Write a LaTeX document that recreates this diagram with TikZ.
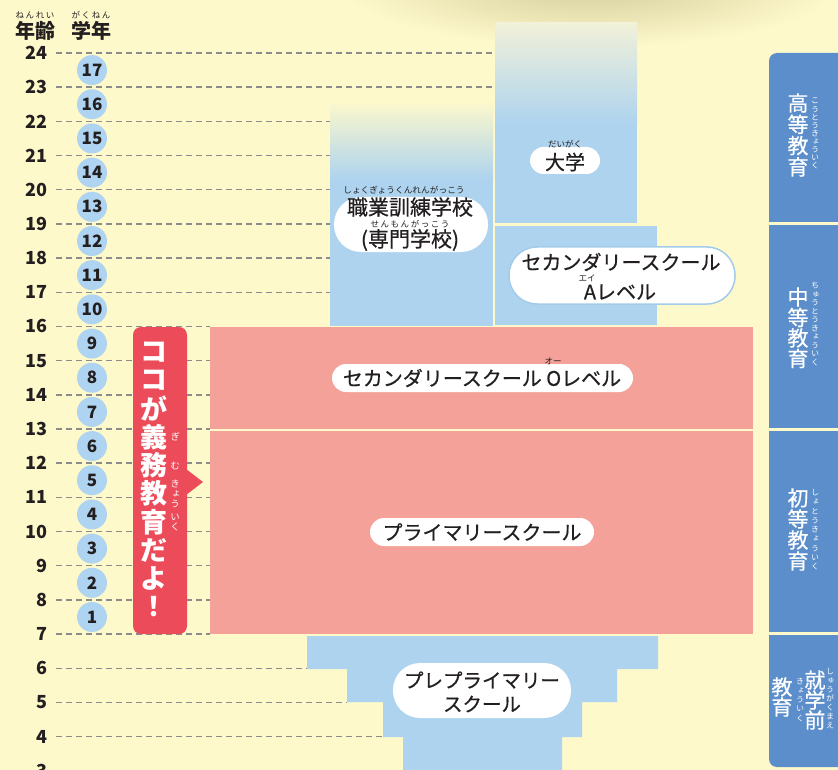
\documentclass[tikz,border=0pt]{standalone}
\usepackage{fontspec}
\setmainfont{Noto Sans CJK JP}
\newfontfamily\jpv[RawFeature=+vert]{Noto Sans CJK JP}
\newfontfamily\jpm[FakeBold=0.6]{Noto Sans CJK JP}
\newfontfamily\jpsp[LetterSpace=18]{Noto Sans CJK JP}
\definecolor{bgy}{HTML}{FEF9CB}
\definecolor{shadowc}{HTML}{D4CC9C}
\definecolor{lblue}{HTML}{ADD3EF}
\definecolor{lborder}{HTML}{A3CBEB}
\definecolor{topfade}{HTML}{F2F1D9}
\definecolor{pinkr}{HTML}{F4A19A}
\definecolor{sideblue}{HTML}{5B8ECA}
\definecolor{banner}{HTML}{EC4B5A}
\definecolor{txt}{HTML}{231F20}
\definecolor{dashc}{HTML}{8C8C8C}
\definecolor{circ}{HTML}{AED4F1}
\tikzset{
  fs/.style={font=\jpm\fontsize{#1}{#1}\selectfont},
  lbl/.style={inner sep=0pt, text=txt},
  pillbox/.style={fill=white, inner sep=0pt, draw=none},
  ruby/.style={inner sep=0pt, text=txt, font=\fontsize{8.5}{8.5}\selectfont},
  sruby/.style={inner sep=0pt, text=txt, font=\jpsp\fontsize{8.5}{8.5}\selectfont},
  agelbl/.style={inner sep=0pt, anchor=east, text=txt, font=\fontsize{18}{18}\selectfont\bfseries},
  gradecirc/.style={circle, fill=circ, minimum size=30pt, inner sep=0pt, text=txt, font=\fontsize{17}{17}\selectfont\bfseries},
  dashl/.style={draw=dashc, line width=1.4pt, dash pattern=on 6pt off 4pt},
  vchar/.style={inner sep=0pt, text=white, font=\jpm\fontsize{21}{21}\selectfont},
  vruby/.style={inner sep=0pt, text=white, font=\jpv\fontsize{8}{8}\selectfont},
  bchar/.style={inner sep=0pt, text=white, font=\fontsize{27}{27}\selectfont\bfseries},
  bruby/.style={inner sep=0pt, text=white, font=\jpv\fontsize{9.5}{9.5}\selectfont},
}
\begin{document}
\begin{tikzpicture}[x=1pt,y=-1pt]
\useasboundingbox (0,0) rectangle (838,770);
\clip (0,0) rectangle (838,770);
\fill[bgy] (0,0) rectangle (838,770);
% top shadow
\shade[inner color=shadowc, outer color=bgy] (590,-15) ellipse [x radius=250, y radius=62];
% header
\node[lbl, font=\fontsize{20}{20}\selectfont\bfseries] (hage) at (35,31) {年齢};
\node[lbl, font=\fontsize{20}{20}\selectfont\bfseries] (hgrade) at (91,31) {学年};
\node[sruby] (rage) at (35,15) {ねんれい};
\node[sruby] (rgrade) at (91,15) {がくねん};
% dashed lines and ages
\foreach \a/\xe in {24/495,23/495,22/330,21/330,20/330,19/330,18/330,17/330,16/210,15/210,14/210,13/210,12/210,11/210,10/210,9/210,8/210,7/210,6/307,5/347,4/383} {
  \pgfmathsetmacro\yy{53+(24-\a)*34.18}
  \coordinate (ls\a) at (56,\yy);
  \coordinate (le\a) at (\xe,\yy);
  \draw[dashl] (ls\a) -- (le\a);
  \node[agelbl] (age\a) at (48,\yy) {\a};
}
\node[agelbl] (age3) at (48,770.8) {3};
% columns
\shade[top color=topfade, bottom color=lblue] (495,23) rectangle (637,125);
\fill[lblue] (495,124) rectangle (637,223);
\shade[top color=bgy, bottom color=lblue] (330,100) rectangle (493,180);
\fill[lblue] (330,179) rectangle (493,326);
\fill[lblue] (495,226) rectangle (657,325);
% red areas
\fill[pinkr] (210,327) rectangle (753,429);
\fill[pinkr] (210,431) rectangle (753,634);
% preprimary
\fill[lblue] (307,636) -- (658,636) -- (658,669) -- (617,669) -- (617,702) -- (582,702) -- (582,737) -- (562,737) -- (562,775) -- (403,775) -- (403,737) -- (383,737) -- (383,702) -- (347,702) -- (347,669) -- (307,669) -- cycle;
% label boxes
\node[pillbox, minimum width=70pt, minimum height=27pt, rounded corners=13.5pt] (univbox) at (565,160.5) {};
\node[lbl, fs=20] (univ) at (565,162) {大学};
\node[ruby] (runiv) at (565,144) {だいがく};
\node[pillbox, draw=lborder, line width=1.5pt, minimum width=226pt, minimum height=57pt, rounded corners=28pt] (alevbox) at (622,275.5) {};
\node[lbl, fs=20] (alev1) at (621,262) {セカンダリースクール};
\node[lbl, fs=20] (alev2) at (620,292) {Aレベル};
\node[ruby] (ralev) at (587,278) {エイ};
\node[pillbox, minimum width=154pt, minimum height=55pt, rounded corners=27pt] (vocbox) at (411,224.5) {};
\node[lbl, fs=21] (voc1) at (410,207) {職業訓練学校};
\node[lbl, fs=21] (voc2) at (410,240) {(専門学校)};
\node[lbl, font=\fontsize{8.7}{8.7}\selectfont] (rvoc1) at (404,190) {しょくぎょうくんれんがっこう};
\node[sruby] (rvoc2) at (410,224) {せんもんがっこう};
\node[pillbox, minimum width=301pt, minimum height=28pt, rounded corners=14pt] (olevbox) at (482.5,378) {};
\node[lbl, fs=20] (olev) at (482,378) {セカンダリースクール Oレベル};
\node[ruby] (rolev) at (553,361) {オー};
\node[pillbox, minimum width=224pt, minimum height=28pt, rounded corners=14pt] (primbox) at (482,532) {};
\node[lbl, fs=20] (prim) at (482,532) {プライマリースクール};
\node[pillbox, minimum width=178pt, minimum height=55pt, rounded corners=27pt] (prebox) at (482,690.5) {};
\node[lbl, fs=19.5] (pre1) at (482,680) {プレプライマリー};
\node[lbl, fs=19.5] (pre2) at (482,704) {スクール};
% grade circles
\foreach \g in {1,...,17} {
  \pgfmathsetmacro\yy{53+(17.5-\g)*34.18}
  \node[gradecirc] (g\g) at (92,\yy) {\g};
}
% banner
\node[fill=banner, rounded corners=8pt, minimum width=54pt, minimum height=307pt, inner sep=0pt] (bannerbox) at (160,480.5) {};
\coordinate (btip) at (203,482);
\fill[banner] (186,469) -- (btip) -- (186,495) -- cycle;
\foreach \c [count=\i] in {コ,コ,が,義,務,教,育,だ,よ,！} {
  \node[bchar] (bc\i) at (154,{352+(\i-1)*28.3}) {\c};
}
\node[bruby] (bra) at (175,437) {ぎ};
\node[bruby] (brb) at (175,466) {む};
\foreach \c/\yy [count=\i] in {き/484,ょ/494,う/504,い/517,く/527} {
  \node[bruby] (brc\i) at (175,\yy) {\c};
}
% side boxes
\fill[sideblue] (769,222) -- (769,61) arc[start angle=180, end angle=270, radius=8] -- (845,53) -- (845,222) -- cycle;
\fill[sideblue] (769,225) rectangle (845,428);
\fill[sideblue] (769,431) rectangle (845,632);
\fill[sideblue] (769,635) -- (769,759) arc[start angle=180, end angle=90, radius=8] -- (845,767) -- (845,635) -- cycle;
\foreach \c [count=\i] in {高,等,教,育} {
  \node[vchar] (ha\i) at (798,{103+(\i-1)*21.3}) {\c};
}
\foreach \c [count=\i] in {こ,う,と,う,き,ょ,う,い,く} {
  \node[vruby] (hr\i) at (815,{101+(\i-1)*8.1}) {\c};
}
\foreach \c [count=\i] in {中,等,教,育} {
  \node[vchar] (ma\i) at (798,{297+(\i-1)*20.5}) {\c};
}
\foreach \c [count=\i] in {ち,ゅ,う,と,う,き,ょ,う,い,く} {
  \node[vruby] (mr\i) at (815,{286+(\i-1)*8.5}) {\c};
}
\foreach \c [count=\i] in {初,等,教,育} {
  \node[vchar] (pa\i) at (798,{498+(\i-1)*21}) {\c};
}
\foreach \c [count=\i] in {し,ょ,と,う,き,ょ,う,い,く} {
  \node[vruby] (pr\i) at (815,{492.5+(\i-1)*9.3}) {\c};
}
\foreach \c [count=\i] in {就,学,前} {
  \node[vchar] (sa\i) at (815,{680+(\i-1)*20}) {\c};
}
\foreach \c [count=\i] in {し,ゅ,う,が,く,ま,え} {
  \node[vruby] (sr\i) at (830,{671.5+(\i-1)*9}) {\c};
}
\foreach \c [count=\i] in {教,育} {
  \node[vchar] (sb\i) at (782,{687+(\i-1)*20}) {\c};
}
\foreach \c [count=\i] in {き,ょ,う,い,く} {
  \node[vruby] (sq\i) at (800,{681.6+(\i-1)*9.2}) {\c};
}
\end{tikzpicture}
\end{document}
